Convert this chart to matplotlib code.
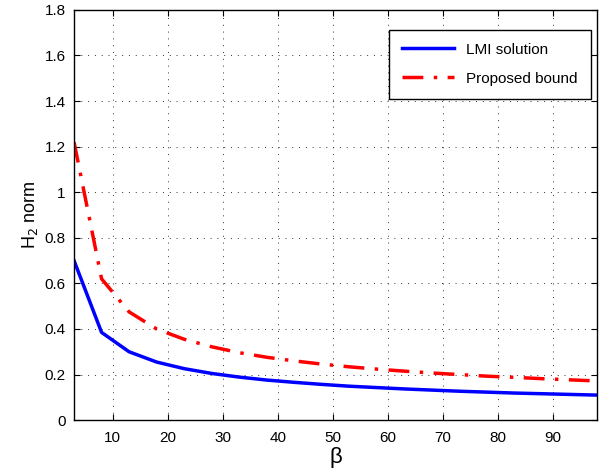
import matplotlib
matplotlib.use('Agg')
import matplotlib.pyplot as plt

beta = [3, 8, 13, 18, 23, 28, 33, 38, 43, 48, 53, 58, 63, 68, 73, 78, 83, 88, 93, 98]
lmi = [0.70, 0.385, 0.300, 0.255, 0.226, 0.205, 0.189, 0.176, 0.166, 0.157,
       0.149, 0.143, 0.137, 0.132, 0.127, 0.123, 0.119, 0.116, 0.113, 0.110]
bound = [1.22, 0.62, 0.475, 0.400, 0.355, 0.322, 0.296, 0.276, 0.260, 0.246,
         0.234, 0.224, 0.215, 0.207, 0.200, 0.193, 0.188, 0.182, 0.177, 0.172]

plt.rcParams['font.family'] = ['Liberation Sans', 'DejaVu Sans']

fig = plt.figure(figsize=(6.02, 4.70), dpi=100)
ax = fig.add_axes([0.123, 0.106, 0.869, 0.873])

ax.plot(beta, lmi, color='blue', linewidth=2.5, label='LMI solution')
ax.plot(beta, bound, color='red', linewidth=2.5, linestyle=(0, (6, 3, 1, 3)), label='Proposed bound')

ax.set_xlim(3, 98)
ax.set_ylim(0, 1.8)
ax.set_xticks(range(10, 100, 10))
ax.set_yticks([0, 0.2, 0.4, 0.6, 0.8, 1, 1.2, 1.4, 1.6, 1.8])
ax.set_yticklabels(['0', '0.2', '0.4', '0.6', '0.8', '1', '1.2', '1.4', '1.6', '1.8'])
ax.tick_params(direction='in', top=True, right=True, labelsize=11, length=4)
ax.tick_params(axis='x', pad=8)
ax.tick_params(axis='y', pad=6)
ax.grid(True, linestyle=(0, (1, 6)), color='#333333', linewidth=0.7)
for s in ax.spines.values():
    s.set_linewidth(1.0)

ax.set_xlabel('\u03b2', fontsize=16, labelpad=1)
ax.set_ylabel('H$_2$ norm', fontsize=13, labelpad=3)

leg = ax.legend(loc='upper right', bbox_to_anchor=(0.988, 0.952), fontsize=11, fancybox=False,
                edgecolor='black', framealpha=1, handlelength=3.4, borderpad=0.85,
                labelspacing=1.0, borderaxespad=0)
leg.get_frame().set_linewidth(1.0)

plt.savefig('out.png', dpi=100)
